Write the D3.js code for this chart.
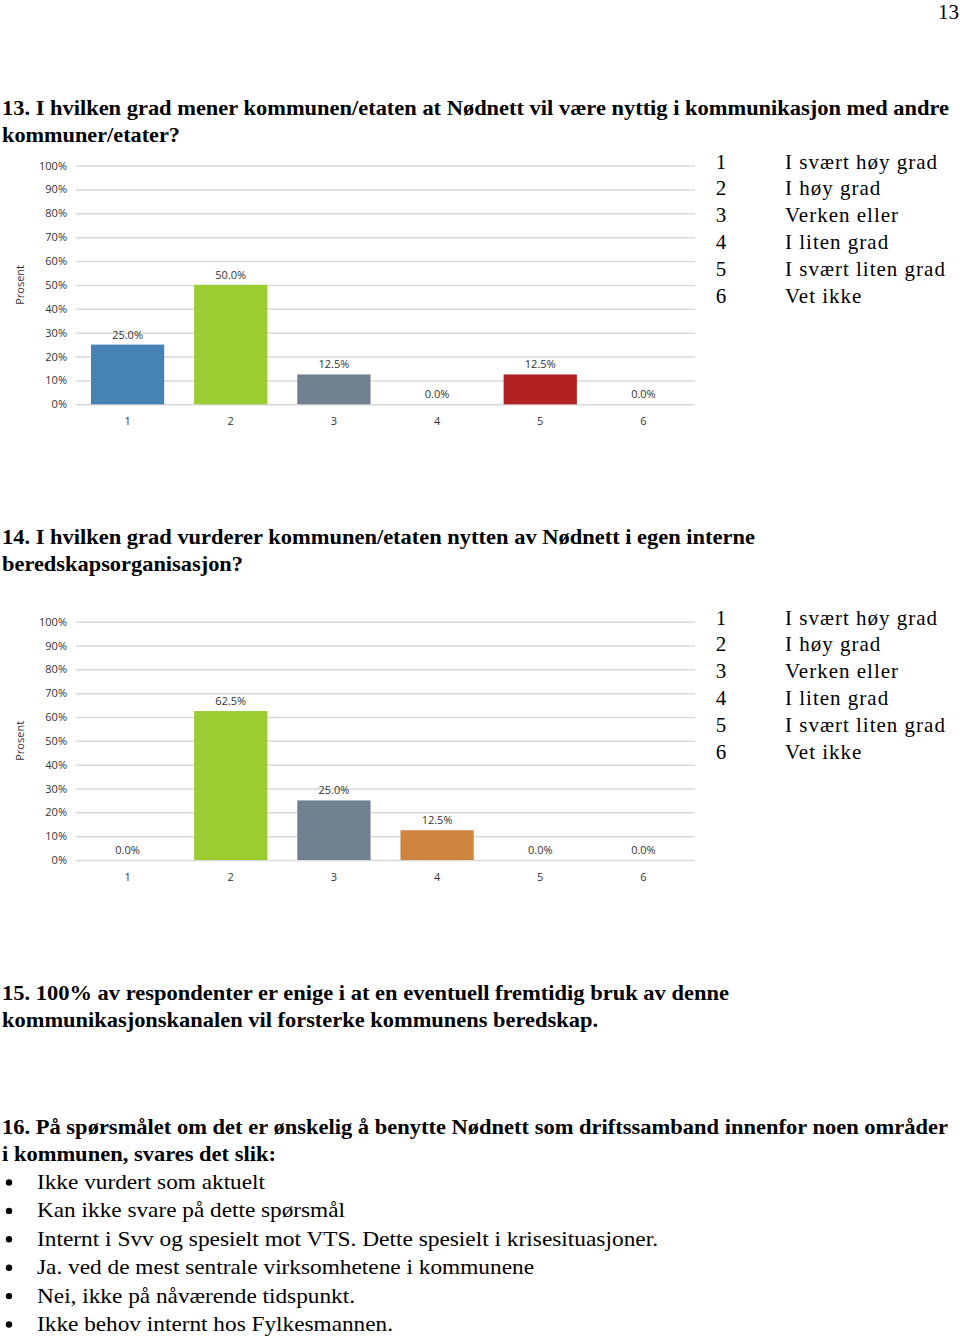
<!DOCTYPE html>
<html>
<head>
<meta charset="utf-8">
<script src="https://cdn.jsdelivr.net/npm/d3@7"></script>
<style>
  body { margin: 0; background: #fff; }
  svg { display: block; }
</style>
</head>
<body>
<div id="page"></div>
<script>
// Data
const categories = ["1", "2", "3", "4", "5", "6"];
const q13Values = [25.0, 50.0, 12.5, 0.0, 12.5, 0.0];
const q14Values = [0.0, 62.5, 25.0, 12.5, 0.0, 0.0];
const barColors = ["#4682b4", "#9acd32", "#708090", "#cd853f", "#b22222", "#8fbc8f"];
const yTicks = [0, 10, 20, 30, 40, 50, 60, 70, 80, 90, 100];
const legendLabels = ["I svært høy grad", "I høy grad", "Verken eller", "I liten grad", "I svært liten grad", "Vet ikke"];
const q13Title = ["13. I hvilken grad mener kommunen/etaten at Nødnett vil være nyttig i kommunikasjon med andre", "kommuner/etater?"];
const q14Title = ["14. I hvilken grad vurderer kommunen/etaten nytten av Nødnett i egen interne", "beredskapsorganisasjon?"];
const q15Text = ["15. 100% av respondenter er enige i at en eventuell fremtidig bruk av denne", "kommunikasjonskanalen vil forsterke kommunens beredskap."];
const q16Title = ["16. På spørsmålet om det er ønskelig å benytte Nødnett som driftssamband innenfor noen områder", "i kommunen, svares det slik:"];
const q16Answers = [
  "Ikke vurdert som aktuelt",
  "Kan ikke svare på dette spørsmål",
  "Internt i Svv og spesielt mot VTS. Dette spesielt i krisesituasjoner.",
  "Ja. ved de mest sentrale virksomhetene i kommunene",
  "Nei, ikke på nåværende tidspunkt.",
  "Ikke behov internt hos Fylkesmannen."
];

const W = 960, H = 1337;
const serif = "'Liberation Serif', 'Times New Roman', serif";
const sans = "'Open Sans', 'DejaVu Sans', sans-serif";

const svg = d3.select("#page").append("svg")
  .attr("width", W)
  .attr("height", H);

// page number
svg.append("text")
  .attr("x", 959).attr("y", 19)
  .attr("text-anchor", "end")
  .attr("font-family", serif).attr("font-size", 21)
  .text("13");

// text block helper: lines with fixed widths
function textBlock(lines, x, y0, lineH, widths, bold) {
  lines.forEach((line, i) => {
    const t = svg.append("text")
      .attr("x", x).attr("y", y0 + i * lineH)
      .attr("font-family", serif)
      .attr("font-size", 21)
      .attr("font-weight", bold ? "bold" : "normal")
      .text(line);
    if (widths && widths[i]) {
      t.attr("textLength", widths[i]).attr("lengthAdjust", "spacingAndGlyphs");
    }
  });
}

textBlock(q13Title, 2, 115, 27, [947, 178], true);
textBlock(q14Title, 2, 544, 27, [753, 241], true);
textBlock(q15Text, 2, 1000, 27, [727, 596], true);
textBlock(q16Title, 2, 1134, 27, [946, 274], true);

// bullets
const bulletWidths = [228, 308, 621, 497, 318, 356];
q16Answers.forEach((a, i) => {
  const y = 1189 + i * 28.4;
  svg.append("circle")
    .attr("cx", 9).attr("cy", y - 6.5).attr("r", 3.2)
    .attr("fill", "#000");
  svg.append("text")
    .attr("x", 37).attr("y", y)
    .attr("font-family", serif).attr("font-size", 21)
    .attr("textLength", bulletWidths[i]).attr("lengthAdjust", "spacingAndGlyphs")
    .text(a);
});

// bar chart
function barChart(values, top, bottom) {
  const left = 76, right = 695;
  const x = d3.scaleBand().domain(categories).range([left, right]).paddingInner(0.29).paddingOuter(0.145);
  const y = d3.scaleLinear().domain([0, 100]).range([bottom, top]);
  const g = svg.append("g");

  // gridlines + tick labels
  const yAxis = g.append("g")
    .attr("transform", `translate(${left},0)`)
    .call(d3.axisLeft(y).tickValues(yTicks).tickSize(-(right - left)).tickPadding(9).tickFormat(d => d + "%"));
  yAxis.select(".domain").remove();
  yAxis.selectAll(".tick line").attr("stroke", "#d9d9d9").attr("stroke-width", 1.5);
  yAxis.selectAll(".tick text")
    .attr("font-family", sans).attr("font-size", 11).attr("fill", "#333");

  // category axis
  const xAxis = g.append("g")
    .attr("transform", `translate(0,${bottom})`)
    .call(d3.axisBottom(x).tickSize(0).tickPadding(13));
  xAxis.select(".domain").remove();
  xAxis.selectAll(".tick text")
    .attr("font-family", sans).attr("font-size", 11).attr("fill", "#333");

  // bars
  g.selectAll("rect.bar")
    .data(values)
    .join("rect")
    .attr("class", "bar")
    .attr("x", (d, i) => x(categories[i]))
    .attr("y", d => y(d))
    .attr("width", x.bandwidth())
    .attr("height", d => bottom - y(d))
    .attr("fill", (d, i) => barColors[i]);

  // value labels
  g.selectAll("text.val")
    .data(values)
    .join("text")
    .attr("class", "val")
    .attr("x", (d, i) => x(categories[i]) + x.bandwidth() / 2)
    .attr("y", d => y(d) - 6)
    .attr("text-anchor", "middle")
    .attr("font-family", sans).attr("font-size", 11).attr("fill", "#333")
    .text(d => d.toFixed(1) + "%");

  // y title
  g.append("text")
    .attr("transform", `translate(24,${(top + bottom) / 2}) rotate(-90)`)
    .attr("text-anchor", "middle")
    .attr("font-family", sans).attr("font-size", 11).attr("fill", "#333")
    .text("Prosent");
}

barChart(q13Values, 165.5, 404.3);
barChart(q14Values, 621.7, 860);

// legends
function legend(top) {
  legendLabels.forEach((lab, i) => {
    const y = top + i * 26.8;
    svg.append("text")
      .attr("x", 721).attr("y", y)
      .attr("text-anchor", "middle")
      .attr("font-family", serif).attr("font-size", 21)
      .text(categories[i]);
    svg.append("text")
      .attr("x", 785).attr("y", y)
      .attr("font-family", serif).attr("font-size", 21)
      .attr("letter-spacing", 1)
      .text(lab);
  });
}
legend(168.5);
legend(624.5);
</script>
</body>
</html>
